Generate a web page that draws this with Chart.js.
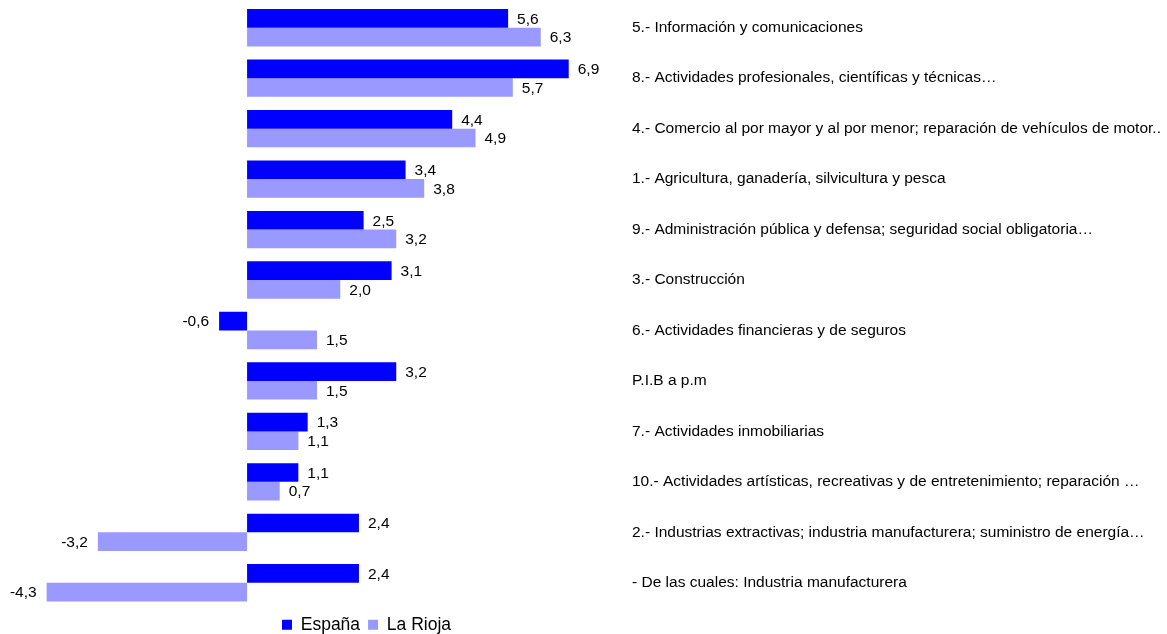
<!DOCTYPE html>
<html>
<head>
<meta charset="utf-8">
<script src="https://cdn.jsdelivr.net/npm/chart.js@4/dist/chart.umd.min.js"></script>
<style>
  html, body { margin: 0; padding: 0; background: #ffffff; }
  #wrap { width: 1167px; height: 634px; position: relative; }
</style>
</head>
<body>
<div id="wrap"><canvas id="c"></canvas></div>
<script>
const categories = [
  "5.- Información y comunicaciones",
  "8.- Actividades profesionales, científicas y técnicas…",
  "4.- Comercio al por mayor y al por menor; reparación de vehículos de motor..",
  "1.- Agricultura, ganadería, silvicultura y pesca",
  "9.- Administración pública y defensa; seguridad social obligatoria…",
  "3.- Construcción",
  "6.- Actividades financieras y de seguros",
  "P.I.B a p.m",
  "7.- Actividades inmobiliarias",
  "10.- Actividades artísticas, recreativas y de entretenimiento; reparación …",
  "2.- Industrias extractivas; industria manufacturera; suministro de energía…",
  "- De las cuales: Industria manufacturera"
];
const seriesNames = ["España", "La Rioja"];
const espana  = [5.6, 6.9, 4.4, 3.4, 2.5, 3.1, -0.6, 3.2, 1.3, 1.1, 2.4, 2.4];
const laRioja = [6.3, 5.7, 4.9, 3.8, 3.2, 2.0, 1.5, 1.5, 1.1, 0.7, -3.2, -4.3];

const FONT = '"Liberation Sans", Arial, sans-serif';

const valueLabels = {
  id: 'valueLabels',
  afterDatasetsDraw(chart) {
    const ctx = chart.ctx;
    ctx.save();
    ctx.font = '15.5px ' + FONT;
    ctx.fillStyle = '#000000';
    ctx.textBaseline = 'middle';
    chart.data.datasets.forEach((ds, di) => {
      const meta = chart.getDatasetMeta(di);
      meta.data.forEach((bar, i) => {
        const v = ds.data[i];
        const txt = v.toFixed(1).replace('.', ',');
        if (v >= 0) {
          ctx.textAlign = 'left';
          ctx.fillText(txt, bar.x + 9, bar.y + 1);
        } else {
          ctx.textAlign = 'right';
          ctx.fillText(txt, bar.x - 10, bar.y + 1);
        }
      });
    });
    ctx.restore();
  }
};

const legendShift = {
  id: 'legendShift',
  afterLayout(chart) {
    const lg = chart.legend;
    if (lg) { lg.left -= 224; lg.right -= 224; }
  }
};

new Chart(document.getElementById('c'), {
  type: 'bar',
  data: {
    labels: categories,
    datasets: [
      { label: seriesNames[0], data: espana,  backgroundColor: '#0000FF', borderWidth: 0 },
      { label: seriesNames[1], data: laRioja, backgroundColor: '#9999FF', borderWidth: 0 }
    ]
  },
  options: {
    indexAxis: 'y',
    responsive: true,
    maintainAspectRatio: false,
    animation: false,
    layout: { padding: { left: 14, top: 2.5, right: 0, bottom: 0 } },
    datasets: { bar: { categoryPercentage: 0.74, barPercentage: 1.0 } },
    scales: {
      x: {
        display: false,
        min: -5,
        max: 8
      },
      y: {
        position: 'right',
        grid: { display: false, drawTicks: false },
        border: { display: false },
        afterFit(scale) {
          scale.width = 547;
          scale.paddingTop = 0;
          scale.paddingBottom = 0;
        },
        ticks: {
          autoSkip: false,
          padding: 12,
          color: '#000000',
          font: { family: FONT, size: 15.5 }
        }
      }
    },
    plugins: {
      tooltip: { enabled: false },
      legend: {
        position: 'bottom',
        maxHeight: 26,
        labels: {
          boxWidth: 10,
          boxHeight: 10,
          padding: 8,
          color: '#000000',
          font: { family: FONT, size: 17.5 }
        }
      }
    }
  },
  plugins: [valueLabels, legendShift]
});
</script>
</body>
</html>
